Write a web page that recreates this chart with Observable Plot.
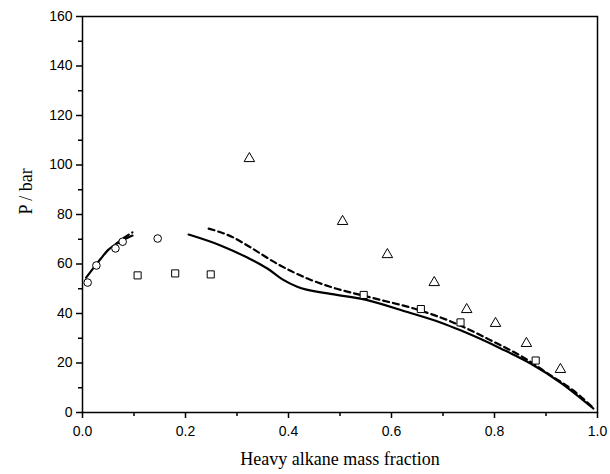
<!DOCTYPE html>
<html>
<head>
<meta charset="utf-8">
<script src="https://cdn.jsdelivr.net/npm/d3@7"></script>
<script src="https://cdn.jsdelivr.net/npm/@observablehq/plot@0.6"></script>
<style>
  html, body { margin: 0; padding: 0; background: #fff; }
</style>
</head>
<body>
<div id="chart"></div>
<script>
// Experimental points
const circleX = [0.01, 0.027, 0.064, 0.078, 0.146];
const circleP = [52.5, 59.4, 66.3, 69.0, 70.3];

const squareX = [0.107, 0.18, 0.249, 0.546, 0.657, 0.734, 0.88];
const squareP = [55.4, 56.2, 55.8, 47.5, 41.8, 36.4, 21.0];

const triangleX = [0.324, 0.505, 0.592, 0.683, 0.746, 0.802, 0.862, 0.928];
const triangleP = [102.6, 77.2, 63.8, 52.5, 41.6, 36.0, 27.9, 17.4];

// Model curves (solid and dashed), two branches each
const solid1X = [0.007, 0.02, 0.035, 0.049, 0.07, 0.097];
const solid1P = [54.5, 58.0, 62.0, 65.5, 68.7, 71.5];
const solid2X = [0.206, 0.268, 0.32, 0.359, 0.39, 0.417, 0.476, 0.54, 0.631, 0.695, 0.734, 0.812, 0.87, 0.928, 0.992];
const solid2P = [71.9, 67.5, 62.6, 58.2, 53.6, 50.8, 48.1, 46.0, 40.6, 36.4, 33.2, 25.9, 19.8, 12.1, 1.6];

const dash1X = [0.065, 0.08, 0.097];
const dash1P = [68.0, 70.5, 72.8];
const dash2X = [0.245, 0.293, 0.32, 0.384, 0.437, 0.478, 0.565, 0.65, 0.715, 0.798, 0.85, 0.909, 0.953, 0.992];
const dash2P = [74.3, 70.7, 67.5, 59.4, 54.1, 51.0, 46.2, 41.6, 36.8, 28.6, 23.0, 15.0, 8.9, 1.8];

const xTicks = [0, 0.2, 0.4, 0.6, 0.8, 1.0];
const xMinor = [0.1, 0.3, 0.5, 0.7, 0.9];
const yTicks = [0, 20, 40, 60, 80, 100, 120, 140, 160];
const yMinor = [10, 30, 50, 70, 90, 110, 130, 150];

const zip = (xs, ys) => xs.map((x, i) => ({x, p: ys[i]}));

const chart = Plot.plot({
  width: 610,
  height: 474,
  marginLeft: 82,
  marginRight: 13,
  marginTop: 16,
  marginBottom: 62,
  x: {domain: [0, 1]},
  y: {domain: [0, 160]},
  style: {fontFamily: "Liberation Sans, Arial, sans-serif", fontSize: "14px", color: "#000", background: "#fff"},
  marks: [
    Plot.frame({stroke: "#000", strokeWidth: 1.5}),
    Plot.axisX({ticks: xTicks, tickFormat: d => d.toFixed(1), tickSize: 6, tickPadding: 8, fontSize: 14, label: null, strokeWidth: 1.5}),
    Plot.axisX({ticks: xMinor, tickSize: 4, text: null, label: null, strokeWidth: 1.5}),
    Plot.axisY({ticks: yTicks, tickFormat: d => String(d), tickSize: 6, tickPadding: 4, fontSize: 14, label: null, strokeWidth: 1.5}),
    Plot.axisY({ticks: yMinor, tickSize: 4, text: null, label: null, strokeWidth: 1.5}),
    Plot.line(zip(solid1X, solid1P), {x: "x", y: "p", stroke: "#000", strokeWidth: 2.2, curve: "monotone-x"}),
    Plot.line(zip(solid2X, solid2P), {x: "x", y: "p", stroke: "#000", strokeWidth: 2.2, curve: "monotone-x"}),
    Plot.line(zip(dash1X, dash1P), {x: "x", y: "p", stroke: "#000", strokeWidth: 2.2, strokeDasharray: "6,4", curve: "monotone-x"}),
    Plot.line(zip(dash2X, dash2P), {x: "x", y: "p", stroke: "#000", strokeWidth: 2.2, strokeDasharray: "6,4", curve: "monotone-x"}),
    Plot.dot(zip(circleX, circleP), {x: "x", y: "p", r: 3.8, stroke: "#000", fill: "#fff", strokeWidth: 1}),
    Plot.dot(zip(squareX, squareP), {x: "x", y: "p", r: 4, symbol: "square", stroke: "#000", fill: "#fff", strokeWidth: 1}),
    Plot.dot(zip(triangleX, triangleP), {x: "x", y: "p", r: 3.9, symbol: "triangle", stroke: "#000", fill: "#fff", strokeWidth: 1}),
    Plot.text(["Heavy alkane mass fraction"], {frameAnchor: "bottom", dy: 52, fontFamily: "Liberation Serif, Times New Roman, serif", fontSize: 18}),
    Plot.text(["P / bar"], {frameAnchor: "left", dx: -56, rotate: -90, fontFamily: "Liberation Serif, Times New Roman, serif", fontSize: 18})
  ]
});
document.getElementById("chart").appendChild(chart);
</script>
</body>
</html>
